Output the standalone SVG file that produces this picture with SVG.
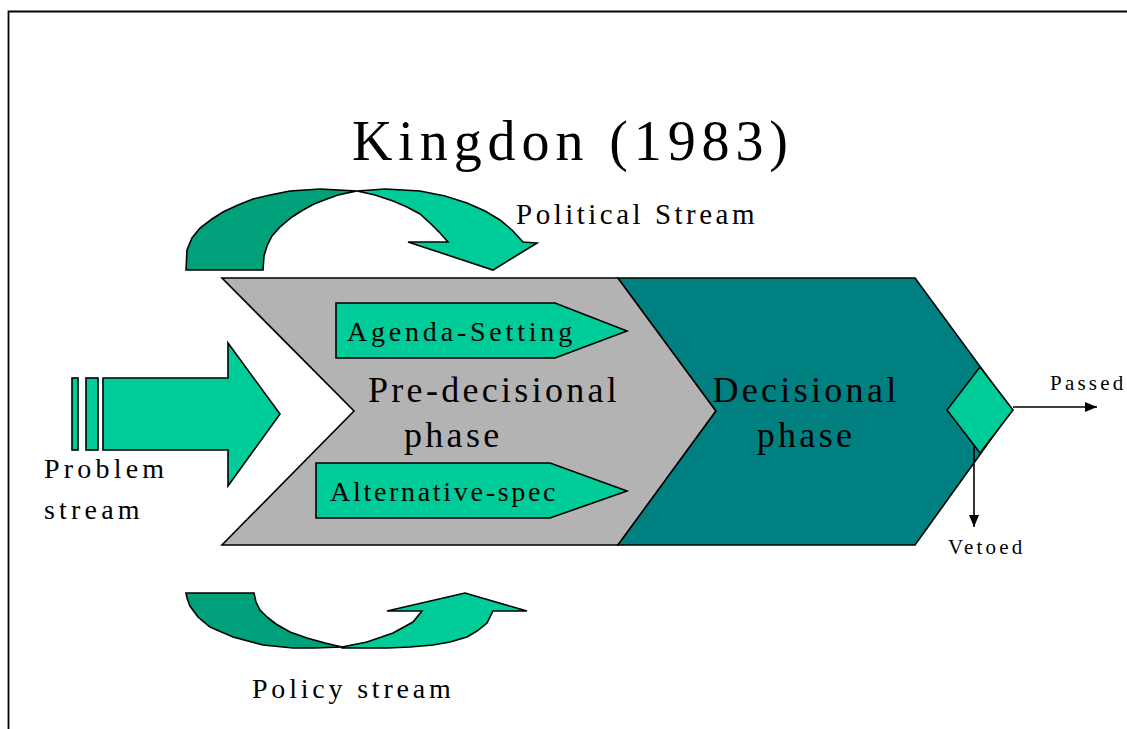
<svg xmlns="http://www.w3.org/2000/svg" width="1127" height="729" viewBox="0 0 1127 729">
  <style>
    .shape { stroke: #000; stroke-width: 1.6; stroke-linejoin: miter; }
    .light { fill: #00CC99; }
    .dark { fill: #00A07A; }
    .gray { fill: #B3B3B3; }
    .teal { fill: #008080; }
    .t { font-family: "Liberation Serif", "Times New Roman", serif; fill: #000; }
    .conn { stroke: #000; stroke-width: 1.6; fill: none; }
  </style>
  <defs>
    <marker id="arrowhead" viewBox="0 0 12 10" refX="12" refY="5" markerWidth="12" markerHeight="10" markerUnits="userSpaceOnUse" orient="auto">
      <path d="M0,0 L12,5 L0,10 Z" fill="#000"/>
    </marker>
  </defs>

  <rect width="1127" height="729" fill="#fff"/>

  <!-- slide frame -->
  <g id="frame">
    <path d="M8.5,729 L8.5,11.5 L1127,11.5" fill="none" stroke="#000" stroke-width="1.8"/>
  </g>

  <!-- title -->
  <g id="title">
    <text class="t" x="352" y="160" font-size="56" letter-spacing="5.9">Kingdon (1983)</text>
  </g>

  <!-- political stream: curved arrow above the process -->
  <g id="political-stream">
    <path class="shape dark" d="M186,270 L187,250 L192,238 L200,228 L212,219 L223,212 L238,205 L253,199 L270,195 L290,191 L320,189 L357,191 L338,195 L327,199 L314,204 L303,210 L292,217 L280,227 L272,236 L267,246 L264,256 L263,270 Z"/>
    <path class="shape light" d="M357,191 L385,189 L420,191 L445,196 L467,203 L485,211 L500,220 L512,230 L523,242 L537,243 L493,270 L408,242 L448,242 L440,233 L431,224 L420,214 L407,207 L393,201 L375,195 Z"/>
    <text class="t" x="516" y="224" font-size="29" letter-spacing="3.5">Political Stream</text>
  </g>

  <!-- policy stream: curved arrow below the process -->
  <g id="policy-stream">
    <path class="shape dark" d="M186,593 L254,593 L256,602 L260,610 L267,617 L276,624 L290,632 L307,638 L325,643 L342,647 L315,648 L293,648 L263,645 L233,637 L210,627 L198,617 L190,606 L187,598 Z"/>
    <path class="shape light" d="M342,647 L367,642 L393,633 L413,622 L422,611 L387,611 L465,593 L527,611 L493,611 L487,623 L477,631 L467,637 L450,642 L433,645 L410,647 L387,648 L342,648 Z"/>
    <text class="t" x="252" y="698" font-size="28" letter-spacing="3.8">Policy stream</text>
  </g>

  <!-- problem stream: block arrow from the left -->
  <g id="problem-stream">
    <rect class="shape light" x="72" y="378" width="6" height="72"/>
    <rect class="shape light" x="86" y="378" width="12" height="72"/>
    <path class="shape light" d="M103,378 L228,378 L228,343 L280,414 L228,486 L228,450 L103,450 Z"/>
    <text class="t" x="44" y="478" font-size="28" letter-spacing="4.2">Problem</text>
    <text class="t" x="44" y="519" font-size="28" letter-spacing="4.2">stream</text>
  </g>

  <!-- pre-decisional phase chevron -->
  <g id="pre-decisional">
    <path class="shape gray" d="M222,278 L618,278 L716,411 L618,545 L222,545 L354,411 Z"/>
    <text class="t" x="368" y="402" font-size="36" letter-spacing="3.3">Pre-decisional</text>
    <text class="t" x="404" y="447" font-size="36" letter-spacing="3.3">phase</text>
  </g>

  <!-- decisional phase chevron -->
  <g id="decisional">
    <path class="shape teal" d="M618,278 L915,278 L1012,410 L915,545 L618,545 L716,411 Z"/>
    <text class="t" x="806" y="402" font-size="36" letter-spacing="3.3" text-anchor="middle">Decisional</text>
    <text class="t" x="806" y="447" font-size="36" letter-spacing="3.3" text-anchor="middle">phase</text>
  </g>

  <!-- sub-process arrows inside the pre-decisional phase -->
  <g id="agenda-setting">
    <path class="shape light" d="M336,303 L555,303 L627,331 L555,358 L336,358 Z"/>
    <text class="t" x="347" y="341" font-size="28" letter-spacing="3.8">Agenda-Setting</text>
  </g>
  <g id="alternative-spec">
    <path class="shape light" d="M316,463 L550,463 L627,491 L550,518 L316,518 Z"/>
    <text class="t" x="330" y="501" font-size="28" letter-spacing="2.7">Alternative-spec</text>
  </g>

  <!-- decision point -->
  <g id="decision-point">
    <path class="shape light" d="M980,367 L1013,410 L980,453 L947,410 Z"/>
  </g>

  <!-- outcome connectors -->
  <g id="connectors">
    <line class="conn" x1="1013" y1="407" x2="1097" y2="407" marker-end="url(#arrowhead)"/>
    <line class="conn" x1="974" y1="445" x2="974" y2="527" marker-end="url(#arrowhead)"/>
  </g>

  <g id="outcome-labels">
    <text class="t" x="1050" y="390" font-size="21" letter-spacing="3.2">Passed</text>
    <text class="t" x="948" y="554" font-size="21" letter-spacing="3.2">Vetoed</text>
  </g>
</svg>
